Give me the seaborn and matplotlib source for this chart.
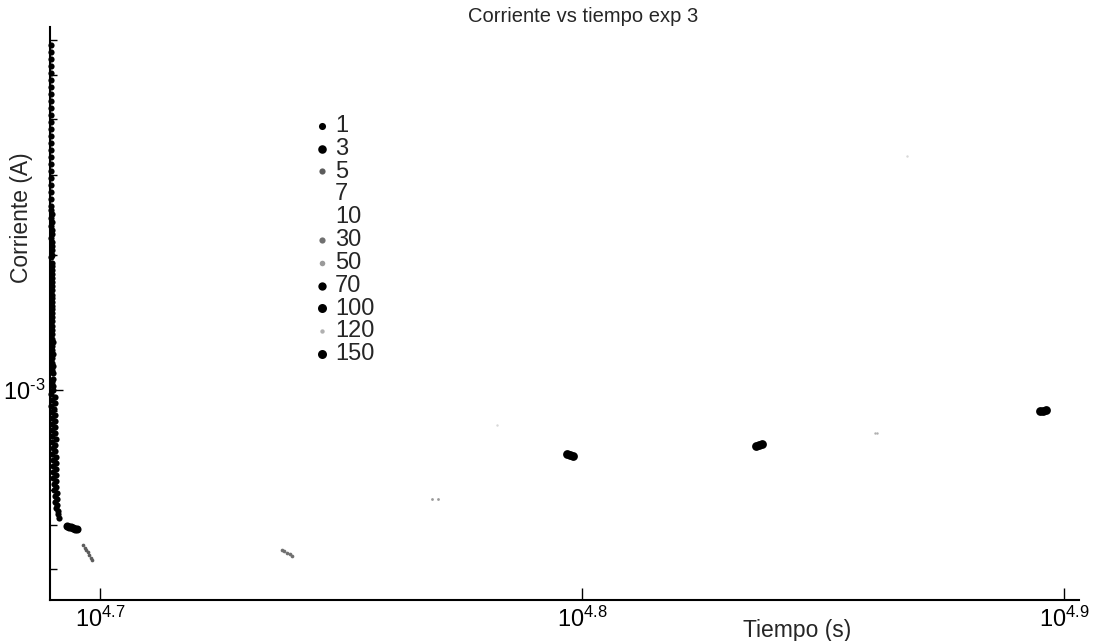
import numpy as np
import pandas as pd
import matplotlib
matplotlib.use("Agg")
import matplotlib.pyplot as plt
import seaborn as sns
from matplotlib.ticker import FixedLocator, FixedFormatter, NullFormatter, NullLocator, LogLocator

# ---- data: time (s) and current (mA) for each run ----
t_1 = [48958, 48962, 48955, 48964, 48960, 48957, 48966, 48961, 48956, 48963,
       48968, 48959, 48962, 48965, 48958, 48967, 48961, 48969, 48963, 48966,
       48960, 48971, 48964, 48968,
       48966, 48972, 48969, 48975, 48970, 48978, 48973, 48968, 48980, 48974,
       48977, 48983, 48971, 48979, 48985, 48976, 48982, 48974, 48987, 48980,
       48984, 48978, 48990, 48983, 48976, 48988, 48985, 48992, 48981, 48986,
       48994, 48979, 48989, 48996, 48984, 48991, 48998, 48987, 48993, 49000,
       48985, 48997, 49002, 48990, 49004, 48995,
       48970, 49045, 48975, 49050, 48968, 49040, 48980, 49055, 48972, 49048,
       48985, 49060, 48978, 49052, 48990, 49065, 48983, 49058, 48995, 49062,
       48988, 49070, 49000, 49066, 48995, 49075, 49010, 49072, 49005, 49080,
       49020, 49085, 49030, 49090, 49045, 49095, 49060, 49105, 49080, 49115,
       49130, 49158]
i_1 = [5.85, 5.64, 5.44, 5.25, 5.06, 4.89, 4.71, 4.55, 4.39, 4.23,
       4.08, 3.94, 3.80, 3.67, 3.54, 3.41, 3.29, 3.18, 3.07, 2.96,
       2.86, 2.75, 2.66, 2.56,
       2.51, 2.46, 2.41, 2.36, 2.31, 2.27, 2.22, 2.18, 2.13, 2.09,
       2.05, 2.00, 1.97, 1.92, 1.89, 1.85, 1.81, 1.77, 1.74, 1.70,
       1.67, 1.63, 1.60, 1.57, 1.54, 1.51, 1.48, 1.45, 1.42, 1.39,
       1.36, 1.33, 1.30, 1.28, 1.25, 1.23, 1.20, 1.18, 1.15, 1.13,
       1.11, 1.09, 1.06, 1.04, 1.02, 1.00,
       0.980, 0.965, 0.950, 0.936, 0.921, 0.907, 0.894, 0.880, 0.867, 0.853,
       0.840, 0.828, 0.815, 0.803, 0.790, 0.778, 0.766, 0.755, 0.743, 0.732,
       0.721, 0.710, 0.699, 0.688, 0.678, 0.667, 0.657, 0.647, 0.637, 0.628,
       0.618, 0.609, 0.599, 0.590, 0.581, 0.573, 0.564, 0.555, 0.547, 0.539,
       0.530, 0.520]
t_3 = [49335, 49382, 49429, 49476, 49524, 49571]
i_3 = [0.499, 0.497, 0.495, 0.494, 0.491, 0.490]
t_5 = [49713, 49760, 49784, 49830, 49856, 49900, 49927]
i_5 = [0.452, 0.446, 0.441, 0.436, 0.430, 0.424, 0.419]
t_7 = [60578]
i_7 = [0.836]
t_10 = [73686]
i_10 = [3.31]
t_30 = [54670, 54736, 54802, 54868, 54933]
i_30 = [0.441, 0.438, 0.434, 0.431, 0.428]
t_50 = [58724, 58893]
i_50 = [0.573, 0.572]
t_70 = [62641, 62731, 62821]
i_70 = [0.720, 0.717, 0.714]
t_100 = [68558, 68657, 68755]
i_100 = [0.752, 0.755, 0.757]
t_120 = [72560, 72635]
i_120 = [0.801, 0.803]
t_150 = [78536, 78649, 78761]
i_150 = [0.896, 0.898, 0.902]

run_labels = ["1", "3", "5", "7", "10", "30", "50", "70", "100", "120", "150"]
run_times = [t_1, t_3, t_5, t_7, t_10, t_30, t_50, t_70, t_100, t_120, t_150]
run_currents = [i_1, i_3, i_5, i_7, i_10, i_30, i_50, i_70, i_100, i_120, i_150]

# marker colour and area per run (plot and legend key)
run_colors = ["#000000", "#000000", "#5c5c5c", "#d8d8d8", "#d8d8d8", "#707070",
              "#9a9a9a", "#000000", "#000000", "#b0b0b0", "#000000"]
run_sizes = [20, 34, 7, 3, 3, 7, 4, 40, 40, 3, 40]
key_sizes = [26, 38, 20, 0, 0, 20, 16, 36, 42, 10, 42]

frames = []
for lab, t, i in zip(run_labels, run_times, run_currents):
    frames.append(pd.DataFrame({"Tiempo": t,
                                "Corriente": np.asarray(i, dtype=float) * 1e-3,
                                "exp": lab}))
data = pd.concat(frames, ignore_index=True)

sns.set_style("ticks")
plt.rcParams["font.family"] = ["Liberation Sans", "DejaVu Sans"]
plt.rcParams["mathtext.fontset"] = "custom"
plt.rcParams["mathtext.rm"] = "Liberation Sans"
plt.rcParams["mathtext.it"] = "Liberation Sans:italic"
plt.rcParams["mathtext.bf"] = "Liberation Sans:bold"

W, H = 1093, 641
fig = plt.figure(figsize=(W / 100, H / 100), dpi=100)
ax = fig.add_axes([50 / W, 1 - 600 / H, (1079 - 50) / W, (600 - 27) / H])

for lab, col, sz in zip(run_labels, run_colors, run_sizes):
    sub = data[data["exp"] == lab]
    sns.scatterplot(data=sub, x="Tiempo", y="Corriente", ax=ax, color=col,
                    s=sz, linewidth=0, label=lab, clip_on=False, zorder=3)

ax.set_xscale("log")
ax.set_yscale("log")
ax.set_xlim(10 ** 4.68963, 10 ** 4.9031)
ax.set_ylim(10 ** -3.4667, 10 ** -2.1933)

# x axis: decades 10^4.7 .. 10^4.9
xt = [10 ** 4.7, 10 ** 4.8, 10 ** 4.9]
ax.xaxis.set_major_locator(FixedLocator(xt))
ax.xaxis.set_major_formatter(FixedFormatter([r"$10^{4.7}$", r"$10^{4.8}$", r"$10^{4.9}$"]))
ax.xaxis.set_minor_locator(NullLocator())

# y axis: one labelled decade plus log minor ticks
ax.yaxis.set_major_locator(FixedLocator([1e-3]))
ax.yaxis.set_major_formatter(FixedFormatter([r"$10^{\text{-}3}$"]))
ax.yaxis.set_minor_locator(LogLocator(base=10, subs=np.arange(2, 10)))
ax.yaxis.set_minor_formatter(NullFormatter())

ax.tick_params(which="major", direction="in", length=9, width=1.0,
               labelsize=17, color="black", labelcolor="black")
ax.tick_params(which="minor", direction="in", length=5, width=1.0, color="black")
ax.tick_params(axis="x", pad=5)
ax.tick_params(axis="y", pad=3)

for side in ["top", "right"]:
    ax.spines[side].set_visible(False)
for side in ["left", "bottom"]:
    ax.spines[side].set_linewidth(1.5)
    ax.spines[side].set_color("black")

ax.set_xlabel("Tiempo (s)", fontsize=16.5)
ax.xaxis.set_label_coords((797 - 50) / 1029, -0.033)
ax.set_ylabel("Corriente (A)", fontsize=16.5)
ax.yaxis.set_label_coords((33 - 50) / 1029, (600 - 218) / 573)

fig.text(468 / W, 1 - 16 / H, "Corriente vs tiempo exp 3", ha="left",
         va="center", fontsize=14.5)

handles, labels = ax.get_legend_handles_labels()
leg = ax.legend(handles, labels, loc="upper left", bbox_to_anchor=(316 / W, 1 - 115 / H),
                bbox_transform=fig.transFigure, frameon=False, fontsize=17,
                handlelength=0.5, handletextpad=0.3, labelspacing=0.035,
                borderpad=0, borderaxespad=0, scatterpoints=1)
for h, ks in zip(leg.legend_handles, key_sizes):
    h.set_sizes([ks])

fig.savefig("out.png", dpi=100, facecolor="white")
